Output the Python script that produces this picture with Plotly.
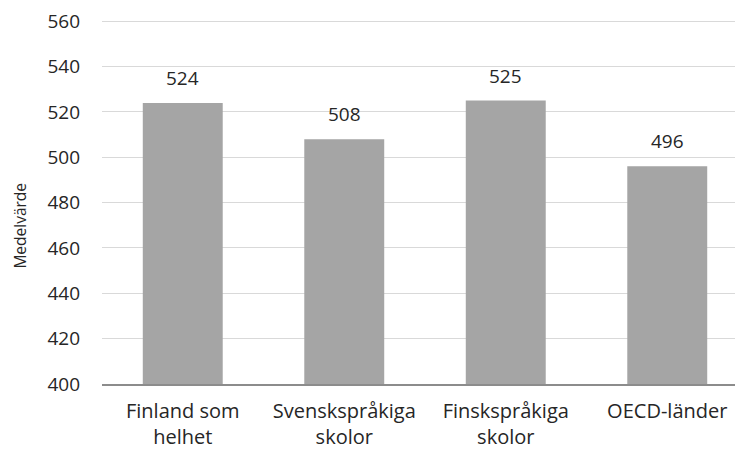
import plotly.graph_objects as go

categories = ["Finland som<br>helhet", "Svenskspråkiga<br>skolor", "Finskspråkiga<br>skolor", "OECD-länder"]
values = [524, 508, 525, 496]
y_ticks = [400, 420, 440, 460, 480, 500, 520, 540, 560]
y_title = "Medelvärde"

font_family = "Open Sans, Noto Sans, sans-serif"
text_color = "#262626"

fig = go.Figure(go.Bar(
    x=list(range(len(categories))), y=values,
    marker=dict(color="#a5a5a5", line=dict(width=0)),
    hoverinfo="skip",
))

for i, v in enumerate(values):
    fig.add_annotation(x=i, y=v, text=str(v), showarrow=False,
                       yanchor="bottom", yshift=10,
                       font=dict(size=19, color=text_color, family=font_family))

fig.add_annotation(text=y_title, xref="paper", yref="paper", x=0, y=0.434,
                   xanchor="center", yanchor="middle", xshift=-82, textangle=-90,
                   showarrow=False, font=dict(size=15.5, color=text_color, family=font_family))

fig.update_layout(
    width=743, height=450,
    margin=dict(l=94, r=8, t=11, b=74),
    paper_bgcolor="white", plot_bgcolor="white",
    bargap=0.505,
    showlegend=False,
    font=dict(family=font_family, size=19, color=text_color),
    xaxis=dict(range=[-0.5, 3.469], tickvals=list(range(len(categories))), ticktext=categories,
               showgrid=False, showline=True, linecolor="#8c8c8c", linewidth=1.5,
               ticks="", tickfont=dict(size=20), ticklabelstandoff=8, automargin=False),
    yaxis=dict(range=[400, 561], tickvals=y_ticks, showgrid=True, gridcolor="#d9d9d9",
               gridwidth=1, zeroline=False, showline=False, ticks="",
               tickfont=dict(size=19), ticklabelstandoff=21, ticklabeloverflow="allow",
               automargin=False),
)

fig.write_html("out.html")
